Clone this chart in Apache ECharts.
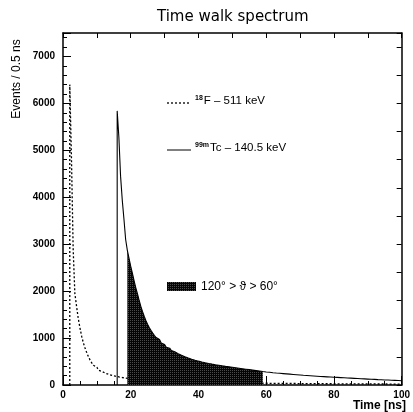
<!DOCTYPE html>
<html>
<head>
<meta charset="utf-8">
<script src="https://cdn.jsdelivr.net/npm/echarts@6/dist/echarts.min.js"></script>
<style>
html,body{margin:0;padding:0;background:#fff;}
#chart{width:413px;height:412px;}
</style>
</head>
<body>
<div id="chart"></div>
<script>
// ---- data (0.5 ns bins) ----
const binWidth = 0.5;
// 18F - 511 keV, bins starting at 2.0 ns
const fStart = 2.0;
const fValues = [
  6400, 4830, 2900, 1950, 1680, 1420, 1220, 1040, 900, 790,
  690, 605, 530, 470, 420, 378, 345, 315, 290, 270,
  252, 238, 226, 215, 205, 196, 188, 180, 173, 166,
  160, 154, 148, 142, 136, 130, 127, 123, 120, 116,
  113, 110, 107, 104, 102, 99, 97, 95, 92, 90,
  88, 86, 85, 83, 81, 80, 78, 77, 75, 74,
  73, 71, 70, 69, 68, 67, 66, 65, 64, 63,
  62, 61, 60, 59, 58, 58, 57, 56, 55, 55,
  54, 53, 53, 52, 51, 51, 50, 49, 49, 48,
  48, 47, 47, 46, 46, 45, 45, 44, 44, 43,
  43, 42, 42, 42, 41, 41, 40, 40, 40, 39,
  39, 38, 38, 38, 37, 37, 37, 36, 36, 36,
  35, 35, 35, 34, 34, 34, 33, 33, 33, 32,
  32, 32, 32, 31, 31, 31, 31, 30, 30, 30,
  30, 29, 29, 29, 29, 28, 28, 28, 28, 28,
  27, 27, 27, 27, 26, 26, 26, 26, 26, 25,
  25, 25, 25, 25, 24, 24, 24, 24, 24, 24,
  23, 23, 23, 23, 23, 22, 22, 22, 22, 22,
  22, 21, 21, 21, 21, 21, 21, 20, 20, 20,
  20, 20, 20, 19, 19, 19
];
// 99mTc - 140.5 keV, bins starting at 16.0 ns
const tcStart = 16.0;
const tcValues = [
  5840, 5280, 4450, 3940, 3530, 3100, 2870, 2700, 2530, 2380,
  2220, 2070, 1940, 1800, 1670, 1560, 1460, 1370, 1290, 1220,
  1160, 1105, 1055, 1010, 970, 932, 897, 864, 833, 805,
  785, 758, 733, 710, 688, 668, 650, 633, 617, 602,
  588, 575, 562, 550, 539, 528, 518, 508, 499, 490,
  482, 474, 466, 459, 452, 445, 438, 432, 426, 420,
  414, 408, 402, 397, 392, 387, 382, 377, 372, 367,
  362, 357, 352, 347, 342, 337, 332, 327, 322, 317,
  312, 307, 302, 297, 292, 287, 282, 278, 274, 270,
  266, 262, 258, 255, 252, 249, 246, 243, 240, 237,
  234, 231, 228, 225, 222, 219, 216, 213, 210, 207,
  205, 202, 200, 197, 195, 192, 190, 187, 185, 182,
  180, 178, 176, 174, 172, 170, 168, 166, 164, 162,
  160, 158, 156, 154, 152, 150, 148, 146, 144, 142,
  140, 138, 136, 134, 132, 130, 128, 126, 124, 122,
  121, 119, 117, 115, 113, 112, 110, 108, 106, 105,
  103, 101, 100, 98, 97, 95, 94, 92
];
// shaded angular cut 120° > theta > 60°
const shadeFrom = 19;
const shadeTo = 59;
const xTicks = [0, 20, 40, 60, 80, 100];
const yTicks = [0, 1000, 2000, 3000, 4000, 5000, 6000, 7000];

// ---- build histogram outlines ----
function histPoints(start, values, closeToZero) {
  const pts = [[start, 0]];
  values.forEach((v, i) => pts.push([start + i * binWidth, v]));
  const end = start + values.length * binWidth;
  pts.push([end, values[values.length - 1]]);
  if (closeToZero) pts.push([end, 0]);
  return pts;
}
const fPts = histPoints(fStart, fValues, false);
const tcPts = histPoints(tcStart, tcValues, false);
const shadeValues = tcValues.filter((v, i) => {
  const x = tcStart + i * binWidth;
  return x >= shadeFrom && x < shadeTo;
});
const shadePts = histPoints(shadeFrom, shadeValues, true);

// ---- dark dither pattern ----
const pc = document.createElement('canvas');
pc.width = 2; pc.height = 2;
const pctx = pc.getContext('2d');
pctx.fillStyle = '#050505'; pctx.fillRect(0, 0, 2, 2);
pctx.fillStyle = '#4a4a4a'; pctx.fillRect(0, 0, 1, 1);
const pattern = { image: pc, repeat: 'repeat' };

const FONT = 'Liberation Sans, Arial, Helvetica, sans-serif';
const chart = echarts.init(document.getElementById('chart'), null, { renderer: 'canvas' });

const axisLineStyle = { color: '#000', width: 1.5 };
chart.setOption({
  animation: false,
  backgroundColor: '#fff',
  title: {
    text: 'Time walk spectrum',
    left: 152, top: 5,
    textStyle: { fontFamily: 'DejaVu Sans, sans-serif', fontSize: 15, fontWeight: 'normal', color: '#000' }
  },
  grid: { left: 63, right: 6, top: 33, bottom: 27, containLabel: false },
  xAxis: [{
    type: 'value', min: 0, max: 100, interval: 20, position: 'bottom',
    axisLine: { show: true, onZero: false, lineStyle: axisLineStyle },
    axisTick: { show: true, inside: true, length: 9, lineStyle: { color: '#000', width: 1 } },
    minorTick: { show: true, splitNumber: 4, length: 4, lineStyle: { color: '#000', width: 1 } },
    axisLabel: {
      color: '#000', fontFamily: FONT, fontSize: 10, fontWeight: 'bold', margin: 5,
      formatter: v => xTicks.includes(v) ? String(v) : ''
    },
    splitLine: { show: false }
  }, {
    type: 'value', min: 0, max: 100, interval: 10, position: 'top',
    axisLine: { show: true, onZero: false, lineStyle: axisLineStyle },
    axisTick: { show: true, inside: true, length: 5, lineStyle: { color: '#000', width: 1 } },
    axisLabel: { show: false },
    splitLine: { show: false }
  }],
  yAxis: [{
    type: 'value', min: 0, max: 7500, interval: 1000, position: 'left',
    axisLine: { show: true, onZero: false, lineStyle: axisLineStyle },
    axisTick: { show: true, inside: true, length: 8, lineStyle: { color: '#000', width: 1 } },
    minorTick: { show: true, splitNumber: 5, length: 4, lineStyle: { color: '#000', width: 1 } },
    axisLabel: {
      color: '#000', fontFamily: FONT, fontSize: 10, fontWeight: 'bold', margin: 8,
      showMaxLabel: false,
      formatter: v => yTicks.includes(v) ? String(v) : ''
    },
    splitLine: { show: false }
  }, {
    type: 'value', min: 0, max: 7500, interval: 600, position: 'right',
    axisLine: { show: true, onZero: false, lineStyle: axisLineStyle },
    axisTick: { show: true, inside: true, length: 5, lineStyle: { color: '#000', width: 1 } },
    axisLabel: { show: false },
    splitLine: { show: false }
  }],
  series: [{
    name: '18F - 511 keV', type: 'line', data: fPts, step: 'end', symbol: 'none',
    xAxisIndex: 0, yAxisIndex: 0,
    lineStyle: { color: '#000', width: 1.3, type: [2, 2] }, z: 2
  }, {
    name: '120° > ϑ > 60°', type: 'line', data: shadePts, step: 'end', symbol: 'none',
    xAxisIndex: 0, yAxisIndex: 0,
    lineStyle: { width: 0, color: '#111' },
    areaStyle: { color: pattern, opacity: 1 }, z: 3
  }, {
    name: '99mTc - 140.5 keV', type: 'line', data: tcPts, step: 'end', symbol: 'none',
    xAxisIndex: 0, yAxisIndex: 0,
    lineStyle: { color: '#000', width: 1.1 }, z: 4
  }],
  graphic: [
    { type: 'text', x: 17, y: 79, rotation: Math.PI / 2,
      style: { text: 'Events / 0.5 ns', fontFamily: FONT, fontSize: 12, fill: '#000', align: 'center', verticalAlign: 'middle' } },
    { type: 'text', x: 406, y: 406,
      style: { text: 'Time [ns]', fontFamily: FONT, fontSize: 12, fontWeight: 'bold', fill: '#000', align: 'right', verticalAlign: 'middle' } },
    // legend: 18F
    { type: 'line', shape: { x1: 167, y1: 103, x2: 191, y2: 103 },
      style: { stroke: '#000', lineWidth: 1.3, lineDash: [2, 2] } },
    { type: 'text', x: 195, y: 101,
      style: {
        text: '{s|18}{n|F – 511 keV}', verticalAlign: 'middle',
        rich: {
          s: { fontFamily: FONT, fontSize: 7, fontWeight: 'bold', verticalAlign: 'top', padding: [0, 1, 5, 0] },
          n: { fontFamily: FONT, fontSize: 11.5, fill: '#000' }
        }
      } },
    // legend: 99mTc
    { type: 'line', shape: { x1: 167, y1: 150, x2: 191, y2: 150 },
      style: { stroke: '#000', lineWidth: 1 } },
    { type: 'text', x: 195, y: 148,
      style: {
        text: '{s|99m}{n|Tc – 140.5 keV}', verticalAlign: 'middle',
        rich: {
          s: { fontFamily: FONT, fontSize: 7, fontWeight: 'bold', verticalAlign: 'top', padding: [0, 1, 5, 0] },
          n: { fontFamily: FONT, fontSize: 11.5, fill: '#000' }
        }
      } },
    // legend: shaded
    { type: 'rect', shape: { x: 167, y: 282, width: 29, height: 9 },
      style: { fill: pattern } },
    { type: 'text', x: 201, y: 287,
      style: { text: '120° > ϑ > 60°', fontFamily: FONT, fontSize: 12, fill: '#000', verticalAlign: 'middle' } }
  ]
});
</script>
</body>
</html>
